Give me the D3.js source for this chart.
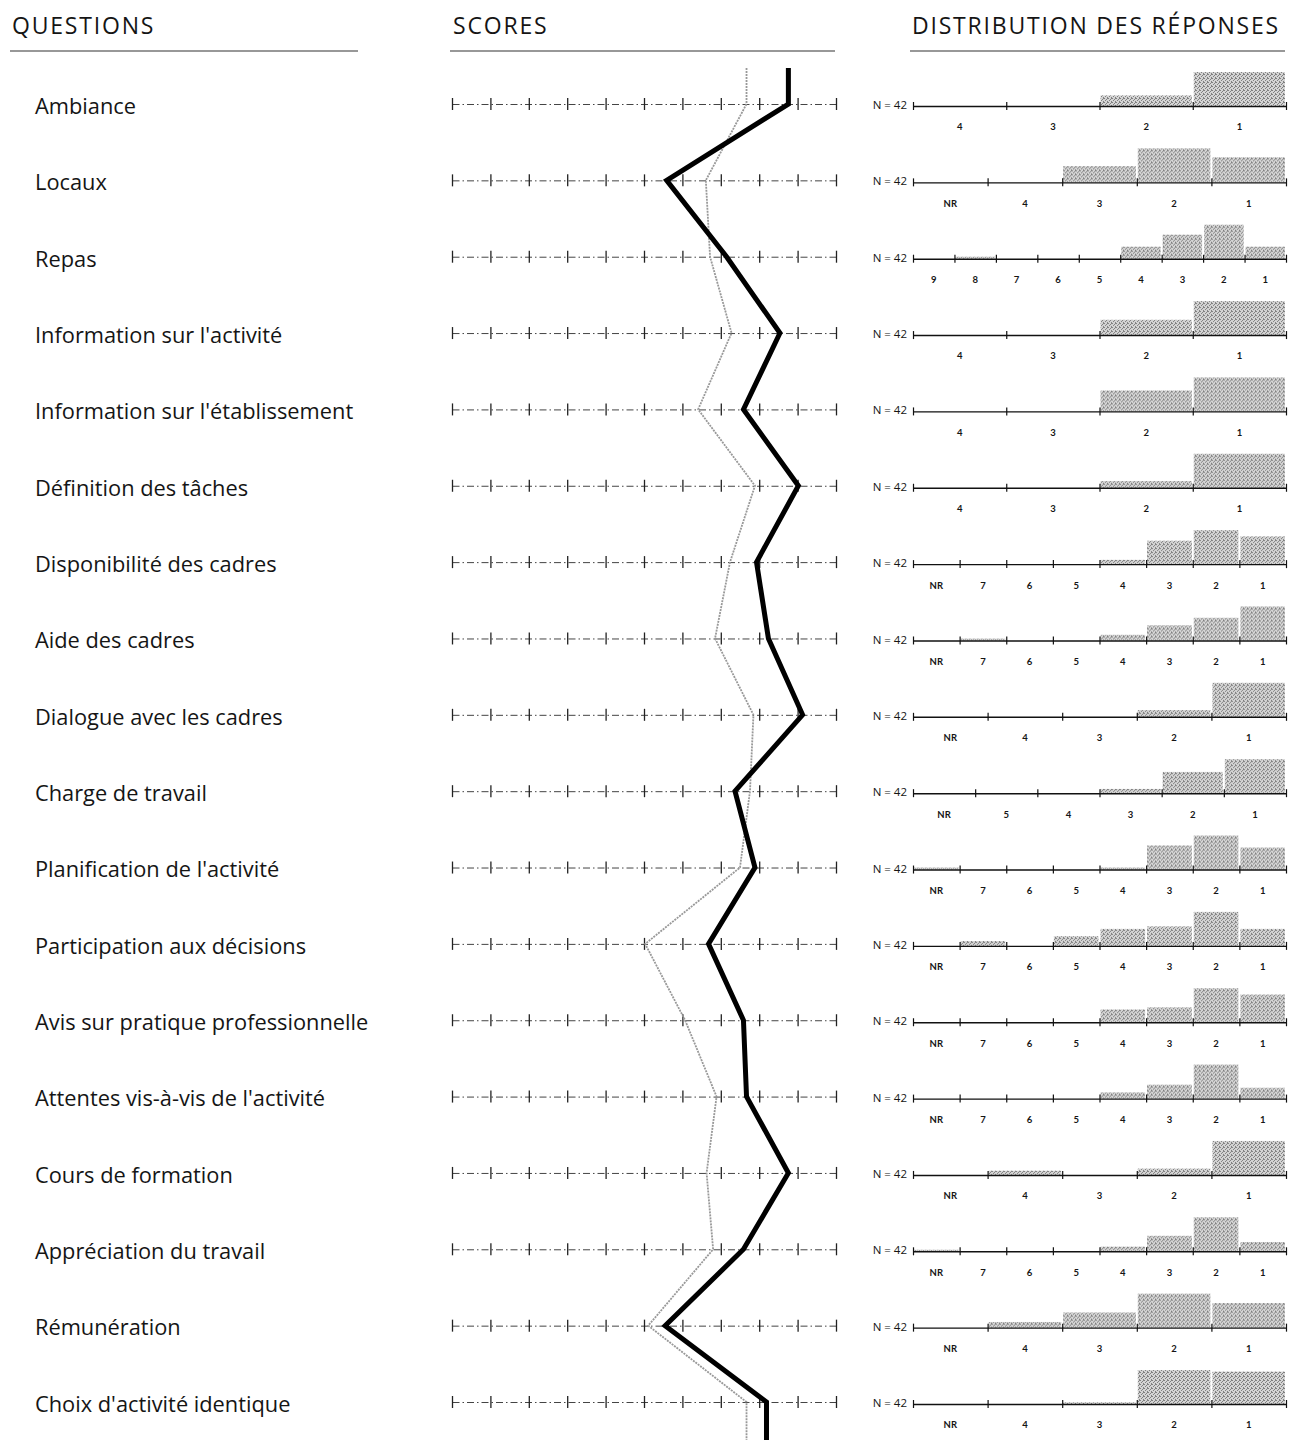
<!DOCTYPE html>
<html><head><meta charset="utf-8">
<script src="https://cdn.jsdelivr.net/npm/d3@7"></script>
<style>body{margin:0;background:#fff;} svg{display:block;font-family:"Open Sans",Lato,sans-serif;}</style>
</head><body><svg id="c" width="1296" height="1440"></svg>
<script>
// ---------- DATA ----------
const headers = ["QUESTIONS", "SCORES", "DISTRIBUTION DES RÉPONSES"];
const questions = [
  "Ambiance", "Locaux", "Repas", "Information sur l'activité",
  "Information sur l'établissement", "Définition des tâches",
  "Disponibilité des cadres", "Aide des cadres", "Dialogue avec les cadres",
  "Charge de travail", "Planification de l'activité", "Participation aux décisions",
  "Avis sur pratique professionnelle", "Attentes vis-à-vis de l'activité",
  "Cours de formation", "Appréciation du travail", "Rémunération",
  "Choix d'activité identique"
];
// scores (0–10 scale), bold line = service, grey line = reference
const scoreBold = [8.76, 5.59, 7.15, 8.54, 7.59, 9.02, 7.93, 8.24, 9.13,
                   7.37, 7.89, 6.68, 7.59, 7.67, 8.76, 7.59, 5.55, 8.19];
const scoreGray = [7.67, 6.61, 6.72, 7.28, 6.41, 7.89, 7.24, 6.85, 7.85,
                   7.76, 7.50, 5.03, 6.07, 6.89, 6.63, 6.80, 5.11, 7.67];
const scoreTicks = [0, 1, 2, 3, 4, 5, 6, 7, 8, 9, 10];
const sampleLabel = "N = 42";
// answer categories per question (left to right)
const cats4 = ["4", "3", "2", "1"];
const catsNR4 = ["NR", "4", "3", "2", "1"];
const catsNR7 = ["NR", "7", "6", "5", "4", "3", "2", "1"];
const cats9 = ["9", "8", "7", "6", "5", "4", "3", "2", "1"];
const catsNR5 = ["NR", "5", "4", "3", "2", "1"];
const categories = [cats4, catsNR4, cats9, cats4, cats4, cats4, catsNR7, catsNR7,
  catsNR4, catsNR5, catsNR7, catsNR7, catsNR7, catsNR7, catsNR4, catsNR7, catsNR4, catsNR4];
// number of respondents per category (same order as categories)
const counts = [
  [0, 0, 10, 32],
  [0, 0, 9, 19, 14],
  [0, 1, 0, 0, 0, 6, 12, 17, 6],
  [0, 0, 13, 29],
  [0, 0, 16, 26],
  [0, 0, 7, 35],
  [0, 0, 0, 0, 2, 11, 16, 13],
  [0, 1, 0, 0, 3, 8, 12, 18],
  [0, 0, 0, 7, 35],
  [0, 0, 0, 3, 15, 24],
  [1, 0, 0, 0, 1, 12, 17, 11],
  [0, 2, 0, 4, 7, 8, 14, 7],
  [0, 0, 0, 0, 6, 7, 16, 13],
  [0, 0, 0, 0, 4, 9, 22, 7],
  [0, 4, 0, 6, 32],
  [1, 0, 0, 0, 3, 10, 22, 6],
  [0, 3, 8, 18, 13],
  [0, 0, 1, 21, 20]
];

// ---------- DRAW ----------
const svg = d3.select("#c");
const ink = "#151515";

// stipple pattern for bars
const defs = svg.append("defs");
const pat = defs.append("pattern").attr("id", "stip").attr("patternUnits", "userSpaceOnUse")
  .attr("width", 4).attr("height", 4);
pat.append("rect").attr("width", 4).attr("height", 4).attr("fill", "#d4d4d4");
[[0,0],[2,1],[1,2],[3,3],[3,0]].forEach(([a,b]) =>
  pat.append("rect").attr("x", a).attr("y", b).attr("width", 1).attr("height", 1).attr("fill", "#808080"));

const y = d3.scalePoint().domain(questions).range([104, 1402]);
const xs = d3.scaleLinear().domain([0, 10]).range([452, 836]);

// headers
const headerX = [12, 453, 912];
const headerLine = [[10, 358], [450, 835], [910, 1285]];
headers.forEach((h, i) => {
  svg.append("text").attr("x", headerX[i]).attr("y", 34).attr("font-size", 23)
    .attr("letter-spacing", 1.8).attr("fill", ink).text(h);
  svg.append("line").attr("x1", headerLine[i][0]).attr("x2", headerLine[i][1])
    .attr("y1", 51).attr("y2", 51).attr("stroke", "#333").attr("stroke-width", 1.2);
});

// question labels
svg.append("g").selectAll("text").data(questions).join("text")
  .attr("x", 35).attr("y", d => y(d) + 4).attr("dominant-baseline", "middle")
  .attr("font-size", 21.8).attr("fill", ink).text(d => d);

// score axes
questions.forEach(q => {
  const g = svg.append("g").attr("transform", `translate(0,${y(q)})`)
    .call(d3.axisBottom(xs).tickValues(scoreTicks).tickSize(0).tickFormat(""));
  g.select(".domain").attr("stroke", "#444").attr("stroke-width", 1)
    .attr("stroke-dasharray", "7 3 1.5 3");
  g.selectAll(".tick line").attr("y1", -6).attr("y2", 6).attr("stroke", "#222").attr("stroke-width", 1.3);
});

// score lines
const yTop = y(questions[0]) - 36, yBot = 1440;
function pts(vals) {
  const p = vals.map((v, i) => [xs(v), y(questions[i])]);
  return [[xs(vals[0]), yTop], ...p, [xs(vals[vals.length - 1]), yBot]];
}
const line = d3.line();
svg.append("path").attr("d", line(pts(scoreGray))).attr("fill", "none")
  .attr("stroke", "#999").attr("stroke-width", 1.8).attr("stroke-dasharray", "2 1");
svg.append("path").attr("d", line(pts(scoreBold))).attr("fill", "none")
  .attr("stroke", "#000").attr("stroke-width", 5).attr("stroke-linejoin", "miter");

// distributions
const dx0 = 913, dx1 = 1286, maxBar = 34;
questions.forEach((q, i) => {
  const cats = categories[i], vals = counts[i];
  const yy = y(q) + 2;
  const band = d3.scaleBand().domain(cats).range([dx0, dx1]);
  const edge = d3.scaleLinear().domain([0, cats.length]).range([dx0, dx1]);
  const h = d3.scaleLinear().domain([0, d3.max(vals)]).range([0, maxBar]);
  const g = svg.append("g").attr("transform", `translate(0,${yy})`);
  g.selectAll("rect").data(cats).join("rect")
    .attr("x", c => band(c) + 1).attr("width", band.bandwidth() - 2)
    .attr("y", (c, j) => -h(vals[j])).attr("height", (c, j) => h(vals[j]))
    .attr("fill", "url(#stip)");
  const ax = g.append("g").call(d3.axisBottom(edge).tickValues(d3.range(cats.length + 1))
    .tickSize(0).tickFormat(""));
  ax.select(".domain").attr("stroke", "#111").attr("stroke-width", 1.4);
  ax.selectAll(".tick line").attr("y1", -4).attr("y2", 4).attr("stroke", "#111").attr("stroke-width", 1.2);
  const lab = g.append("g").attr("transform", "translate(0,22)")
    .call(d3.axisBottom(band).tickSize(0).tickPadding(0));
  lab.select(".domain").remove();
  lab.selectAll(".tick text").attr("font-size", 9.5).attr("font-weight", "bold")
    .attr("font-family", "Lato, sans-serif").attr("fill", ink).attr("dy", 0)
    .attr("dominant-baseline", "middle");
  g.append("text").attr("x", 907).attr("y", 0).attr("text-anchor", "end")
    .attr("dominant-baseline", "middle").attr("font-size", 11.5).attr("fill", ink).text(sampleLabel);
});
</script></body></html>
